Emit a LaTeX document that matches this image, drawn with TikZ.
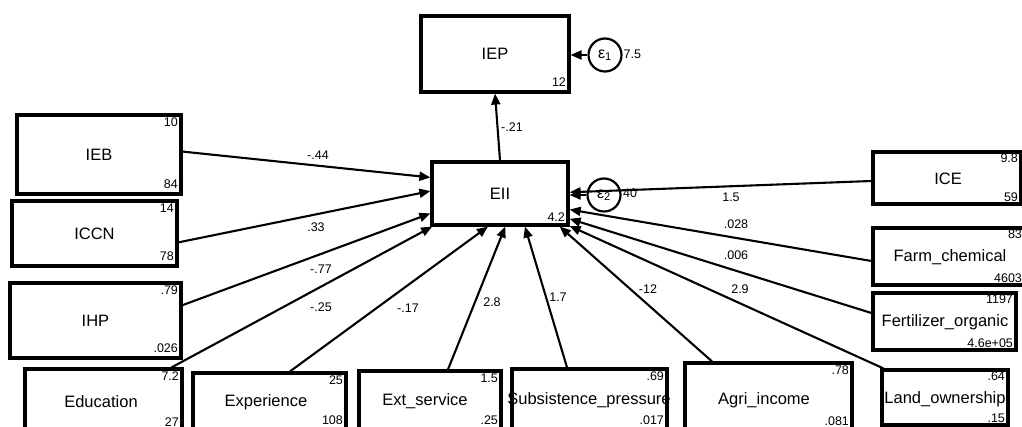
\documentclass[tikz,border=0pt]{standalone}
\usepackage{fontspec}
\setmainfont{Liberation Sans}
\usetikzlibrary{arrows.meta}
\begin{document}
\begin{tikzpicture}[x=1pt,y=-1pt,
  box/.style={draw,line width=3.2pt,inner sep=0pt,font=\fontsize{16.5}{18}\selectfont},
  lab/.style={inner sep=0pt,font=\fontsize{16.5}{18}\selectfont},
  numt/.style={font=\fontsize{12.5}{13}\selectfont,inner xsep=4.5pt,inner ysep=4.5pt,anchor=north east},
  numb/.style={font=\fontsize{12.5}{13}\selectfont,inner xsep=4.5pt,inner ysep=7pt,anchor=south east},
  plab/.style={font=\fontsize{12.5}{13}\selectfont,inner sep=0pt},
  conn/.style={line width=2.1pt,-{Triangle[length=11pt,width=9pt]}},
  err/.style={draw,circle,line width=2.2pt,minimum size=33pt,inner sep=0pt,font=\fontsize{16}{17}\selectfont}]
\useasboundingbox (0,0) rectangle (1022,427);
\clip (0,0) rectangle (1022,427);

% boxes
\node[box,minimum width=148pt,minimum height=76pt] (IEP) at (495,54) {IEP};
\node[box,minimum width=136pt,minimum height=63pt] (EII) at (500,193.5) {EII};
\node[box,minimum width=164pt,minimum height=79pt] (IEB) at (99,154.5) {IEB};
\node[box,minimum width=165pt,minimum height=65pt] (ICCN) at (94.5,233.5) {ICCN};
\node[box,minimum width=171pt,minimum height=75pt] (IHP) at (95.5,320.5) {IHP};
\node[box,minimum width=157pt,minimum height=63pt] (Edu) at (103.5,400.5) {};
\node[lab] (EduT) at (101,402) {Education};
\node[box,minimum width=153pt,minimum height=57pt] (Exp) at (269.5,401.5) {};
\node[lab] (ExpT) at (266,402) {Experience};
\node[box,minimum width=142pt,minimum height=59pt] (Ext) at (430,400.5) {};
\node[lab] (ExtT) at (425,401) {Ext\_service};
\node[box,minimum width=155pt,minimum height=61pt] (Sub) at (589.5,399.5) {};
\node[lab] (SubT) at (589,400) {Subsistence\_pressure};
\node[box,minimum width=167pt,minimum height=71pt] (Agri) at (768.5,398.5) {};
\node[lab] (AgriT) at (764,400) {Agri\_income};
\node[box,minimum width=126pt,minimum height=55pt] (Land) at (945,397.5) {};
\node[lab] (LandT) at (945,399) {Land\_ownership};
\node[box,minimum width=148pt,minimum height=52pt] (ICE) at (947,178) {};
\node[lab] (ICET) at (948,179) {ICE};
\node[box,minimum width=152pt,minimum height=57pt] (Farm) at (949,256.5) {};
\node[lab] (FarmT) at (950,257) {Farm\_chemical};
\node[box,minimum width=143pt,minimum height=57pt] (Fert) at (944.5,321.5) {};
\node[lab] (FertT) at (945,322) {Fertilizer\_organic};

% corner numbers
\node[numb] (IEPb) at (IEP.south east) {12};
\node[numb,inner ysep=5pt] (EIIb) at (EII.south east) {4.2};
\node[numt] (IEBt) at (IEB.north east) {10};
\node[numb] (IEBb) at (IEB.south east) {84};
\node[numt] (ICCNt) at (ICCN.north east) {14};
\node[numb] (ICCNb) at (ICCN.south east) {78};
\node[numt] (IHPt) at (IHP.north east) {.79};
\node[numb] (IHPb) at (IHP.south east) {.026};
\node[numt] (Edut) at (Edu.north east) {7.2};
\node[numb] (Edub) at (Edu.south east) {27};
\node[numt] (Expt) at (Exp.north east) {25};
\node[numb] (Expb) at (Exp.south east) {108};
\node[numt] (Extt) at (Ext.north east) {1.5};
\node[numb] (Extb) at (Ext.south east) {.25};
\node[numt] (Subt) at (Sub.north east) {.69};
\node[numb] (Subb) at (Sub.south east) {.017};
\node[numt] (Agrit) at (Agri.north east) {.78};
\node[numb,inner ysep=10pt] (Agrib) at (Agri.south east) {.081};
\node[numt,inner ysep=3.5pt] (Landt) at (Land.north east) {.64};
\node[numb,inner ysep=3.5pt] (Landb) at (Land.south east) {.15};
\node[numt,inner ysep=3.5pt] (ICEt) at (ICE.north east) {9.8};
\node[numb,inner ysep=4pt] (ICEb) at (ICE.south east) {59};
\node[numt,inner ysep=3.5pt] (Farmt) at (Farm.north east) {83};
\node[numb,inner ysep=3.5pt] (Farmb) at (Farm.south east) {4603};
\node[numt,inner ysep=3.5pt] (Fertt) at (Fert.north east) {1197};
\node[numb,inner ysep=3.5pt] (Fertb) at (Fert.south east) {4.6e+05};

% error terms
\node[err] (e1) at (605,55) {ε\textsubscript{1}};
\node[plab,anchor=west] (e1v) at (623.5,54) {7.5};
\node[err] (e2) at (604,195) {ε\textsubscript{2}};
\node[plab,anchor=west] (e2v) at (623,193) {40};

% connectors
\draw[conn] (EII.north) -- (IEP.south);
\draw[conn] (e1) -- (IEP.east |- e1);
\draw[conn] (IEB.2) -- (EII.167.2);
\draw[conn] (ICCN.354.8) -- (EII.178.7);
\draw[conn] (IHP.10.3) -- (EII.196.8);
\draw[conn] ([xshift=-12pt]Edu.north east) -- (EII.206);
\draw[conn] ([xshift=20.5pt]Exp.north) -- (EII.250.7);
\draw[conn] ([xshift=18pt]Ext.north) -- (EII.279);
\draw[conn] ([xshift=-22.5pt]Sub.north) -- (EII.307.3);
\draw[conn] ([xshift=-56.5pt]Agri.north) -- (EII.331.5);
\draw[conn] ([xshift=3pt]Land.north west) -- (EII.335.5);
\draw[conn] ([yshift=8.5pt]Fert.west) -- (EII.340.9);
\draw[conn] ([yshift=-4.5pt]Farm.west) -- (EII.347.2);
\draw[conn] ([yshift=-3pt]ICE.west) -- (EII.1.5);
\draw[conn] (e2) -- (EII.east |- e2);

% path labels
\node[plab] (l21) at (512,127) {-.21};
\node[plab] (l44) at (318,155) {-.44};
\node[plab] (l33) at (316,227) {.33};
\node[plab] (l77) at (321,269) {-.77};
\node[plab] (l25) at (321,307) {-.25};
\node[plab] (l17) at (408,308) {-.17};
\node[plab] (l28) at (492,302) {2.8};
\node[plab] (l17b) at (558,297) {1.7};
\node[plab] (l12) at (648,289) {-12};
\node[plab] (l29) at (740,289) {2.9};
\node[plab] (l006) at (736,255) {.006};
\node[plab] (l028) at (736,224) {.028};
\node[plab] (l15) at (731,197) {1.5};
\end{tikzpicture}
\end{document}
